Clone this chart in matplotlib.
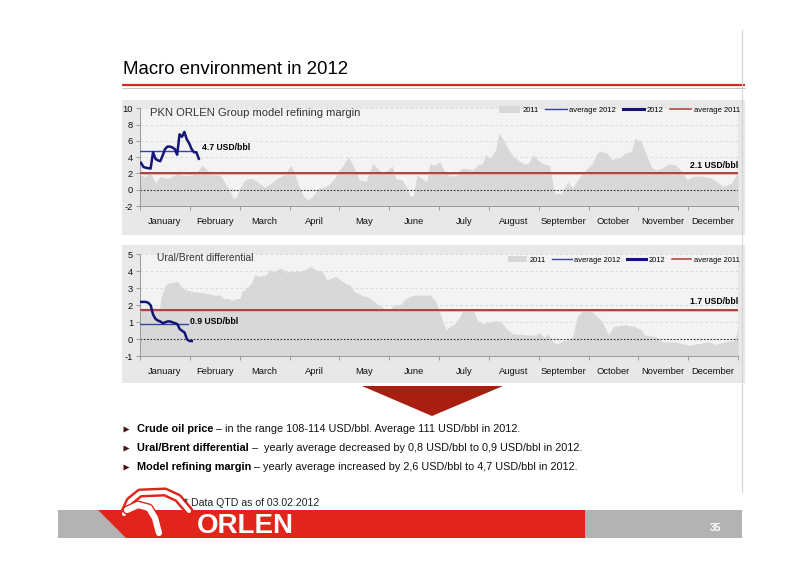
import numpy as np
import matplotlib
matplotlib.use('Agg')
import matplotlib.pyplot as plt
from matplotlib import font_manager as fm
from matplotlib.patches import Rectangle, Polygon, Patch
from matplotlib.lines import Line2D
import matplotlib.patheffects as pe

# ---------------- DATA ----------------
months = ['January', 'February', 'March', 'April', 'May', 'June', 'July',
          'August', 'September', 'October', 'November', 'December']

# Model refining margin 2011 (day of year, USD/bbl)
margin_2011_day = [0, 3, 6, 9, 10, 12, 17, 23, 27, 31, 34, 38, 42, 46, 49, 52, 55, 57, 59, 61,
                   64, 67, 70, 73, 76, 80, 84, 89, 92, 94, 97, 100, 103, 106, 109, 112, 115, 118, 121, 124,
                   127, 130, 134, 138, 142, 145, 148, 151, 154, 156, 160, 163, 165, 167, 169, 172, 175, 177, 180, 183,
                   186, 189, 193, 196, 200, 203, 206, 209, 211, 214, 217, 219, 222, 225, 228, 231, 234, 237, 240, 243,
                   246, 250, 253, 257, 261, 264, 267, 272, 276, 279, 281, 285, 288, 294, 296, 300, 302, 306, 312, 315,
                   318, 323, 327, 331, 334, 337, 343, 349, 356, 361, 365]
margin_2011_val = [1.8, 1.6, 2.2, 1.0, 0.9, 1.6, 1.4, 2.0, 1.7, 1.8, 2.0, 3.0, 2.2, 1.8, 1.8, 0.8, -0.2, -1.1, -0.85, 0.2,
                   1.2, 1.4, 1.2, 0.8, 0.3, 0.8, 1.4, 2.0, 3.0, 2.2, 0.4, -0.85, -1.25, -0.65, 0.2, 0.3, 0.6, 1.2, 2.2, 3.0,
                   4.05, 3.0, 1.2, 1.0, 3.2, 2.6, 2.0, 2.4, 2.9, 1.4, 1.2, 0.2, -0.85, -0.65, 1.8, 1.4, 1.0, 3.2, 3.0, 3.4,
                   2.2, 1.7, 1.7, 2.6, 2.6, 2.4, 3.0, 3.2, 4.3, 3.85, 4.9, 6.9, 6.1, 4.9, 4.05, 3.6, 3.2, 3.2, 4.3, 3.6,
                   3.2, 3.0, -0.4, -0.5, 1.0, 0.2, 1.2, 2.4, 3.2, 4.5, 4.7, 4.5, 3.7, 4.05, 4.5, 4.7, 6.3, 5.9, 2.8, 2.4,
                   2.6, 3.2, 3.0, 2.2, 1.2, 1.6, 1.7, 1.4, 0.4, 0.8, 2.2]
# Model refining margin 2012 (daily, 02.01-03.02)
margin_2012_val = [3.3, 2.8, 2.7, 2.65, 2.6, 4.6, 3.8, 3.6, 3.5, 4.2, 5.0, 5.3, 5.3, 5.2, 5.0, 4.3,
                   6.8, 6.5, 7.1, 6.2, 5.7, 5.0, 4.6, 4.6, 3.8]
margin_avg_2011 = 2.1
margin_avg_2012 = 4.7

# Ural/Brent differential 2011
ural_2011_day = [0, 12, 13, 15, 17, 20, 23, 25, 28, 33, 37, 41, 45, 49, 51, 54, 56, 59, 61, 62,
                 65, 68, 70, 73, 77, 79, 82, 86, 89, 93, 97, 101, 104, 107, 111, 114, 117, 119, 121, 125,
                 128, 131, 135, 140, 143, 146, 149, 152, 155, 159, 162, 167, 172, 177, 180, 183, 185, 187, 189, 192,
                 195, 197, 201, 204, 206, 209, 212, 215, 218, 221, 224, 227, 230, 233, 237, 241, 244, 247, 249, 251,
                 254, 258, 262, 264, 267, 272, 277, 282, 286, 289, 296, 302, 306, 308, 315, 319, 327, 335, 341, 347,
                 351, 357, 363, 365]
ural_2011_val = [1.85, 1.85, 2.5, 3.1, 3.3, 3.35, 3.4, 3.1, 2.9, 2.8, 2.75, 2.7, 2.6, 2.6, 2.4, 2.4, 2.3, 2.4, 2.4, 2.8,
                 3.0, 3.3, 3.8, 3.7, 3.8, 4.1, 4.0, 4.2, 3.95, 4.0, 4.0, 4.1, 4.3, 4.1, 4.0, 3.5, 3.6, 3.7, 3.6, 3.3,
                 3.2, 2.8, 2.6, 2.45, 2.2, 2.0, 1.8, 1.75, 2.0, 2.05, 2.4, 2.6, 2.6, 2.6, 2.3, 1.6, 1.0, 0.55, 0.75, 0.9,
                 1.3, 1.7, 1.75, 1.6, 1.1, 0.9, 1.0, 1.05, 1.1, 0.95, 0.6, 0.35, 0.3, 0.3, 0.25, 0.25, 0.4, 0.1, 0.35, 0.0,
                 -0.3, -0.1, 0.0, 0.15, 1.35, 1.85, 1.55, 1.05, 0.25, 0.75, 0.85, 0.75, 0.55, 0.25, 0.15, -0.15, -0.15, -0.35, -0.25, -0.15,
                 -0.3, -0.15, -0.05, 0.65]
ural_2012_val = [2.2, 2.2, 2.2, 2.15, 2.0, 1.45, 1.2, 1.1, 1.05, 0.95, 1.0, 1.05, 1.05, 1.0, 0.95, 0.9,
                 0.6, 0.5, 0.4, 0.0, -0.1, -0.1]
ural_avg_2011 = 1.7
ural_avg_2012 = 0.9

legend_labels = ['2011', 'average 2012', '2012', 'average 2011']

bullets = [("Crude oil price", " \u2013 in the range 108-114 USD/bbl. Average 111 USD/bbl in 2012."),
           ("Ural/Brent differential", " \u2013  yearly average decreased by 0,8 USD/bbl to 0,9 USD/bbl in 2012."),
           ("Model refining margin", " \u2013 yearly average increased by 2,6 USD/bbl to 4,7 USD/bbl in 2012.")]

# ---------------- FONTS ----------------
def has_font(name):
    try:
        fm.findfont(fm.FontProperties(family=name), fallback_to_default=False)
        return True
    except Exception:
        return False

NARROW_OK = has_font('Liberation Sans Narrow')
NARROW = ['Liberation Sans Narrow', 'Liberation Sans', 'DejaVu Sans'] if NARROW_OK else ['Liberation Sans', 'DejaVu Sans']
NF = 1.0 if NARROW_OK else 0.84
plt.rcParams['font.family'] = NARROW

DPM = 365.0 / 12.0
FILL = '#d8d8d8'
RED_AVG = '#a32424'
BLUE_AVG = '#3444a2'
NAVY = '#14147a'

W, H = 800, 565
fig = plt.figure(figsize=(8, 5.65), dpi=100)
bg = fig.add_axes([0, 0, 1, 1])
bg.set_xlim(0, W)
bg.set_ylim(H, 0)
bg.axis('off')

# Title and rules
bg.text(123, 74, 'Macro environment in 2012', fontsize=16 * NF, va='baseline', ha='left', color='black')
bg.plot([122, 745], [84.5, 84.5], color='#d52b1e', lw=1.6, solid_capstyle='butt')
bg.plot([122, 745], [87.6, 87.6], color='#c4c4c4', lw=0.7, solid_capstyle='butt')
bg.plot([742, 742], [30, 492], color='#d4d4d4', lw=0.8)

# panel backgrounds
bg.add_patch(Rectangle((122, 100), 623, 135, facecolor='#e8e8e8', edgecolor='none', zorder=0))
bg.add_patch(Rectangle((122, 245), 623, 138, facecolor='#e8e8e8', edgecolor='none', zorder=0))


def px_axes(x0, y0, x1, y1):
    return fig.add_axes([x0 / W, 1 - y1 / H, (x1 - x0) / W, (y1 - y0) / H])


def draw_panel(ax, d11, v11, v12, x12_end, avg11, avg12, avg12_end, ylim, yticks,
               title, title_pos, lbl12_off, lbl11_off, legend_anchor, legend_fs, legend_hl):
    ax.set_facecolor('#f3f3f3')
    ax.set_xlim(0, 12)
    ax.set_ylim(*ylim)
    x11 = np.asarray(d11, dtype=float) / DPM
    ax.fill_between(x11, v11, ylim[0], color=FILL, lw=0, zorder=1)
    ax.axhline(0, color='#333333', lw=0.8, ls=(0, (1.5, 1.5)), zorder=2)
    ax.axhline(avg11, color='#ddb0b0', lw=2.0, zorder=3)
    ax.axhline(avg11, color=RED_AVG, lw=1.1, zorder=3.1)
    ax.plot([0, avg12_end], [avg12, avg12], color=BLUE_AVG, lw=1.0, zorder=4)
    x12 = np.linspace(0.02, x12_end, len(v12))
    ax.plot(x12, v12, color=NAVY, lw=1.8, zorder=5, solid_joinstyle='round')

    ax.annotate('%.1f USD/bbl' % avg12, xy=(avg12_end, avg12), xytext=lbl12_off,
                textcoords='offset pixels', ha='left', va='center', fontsize=7.4 * NF,
                fontweight='bold', zorder=6)
    ax.annotate('%.1f USD/bbl' % avg11, xy=(12, avg11), xytext=lbl11_off,
                textcoords='offset pixels', ha='right', va='center', fontsize=7.4 * NF,
                fontweight='bold', zorder=6)
    ax.text(title_pos[0], title_pos[1], title, transform=ax.transAxes, ha='left', va='center',
            fontsize=title_pos[2] * NF, color='#333333', zorder=6)

    # axes styling
    ax.set_yticks(yticks)
    ax.set_yticklabels([str(t) for t in yticks])
    ax.set_xticks(np.arange(13))
    ax.set_xticklabels([])
    ax.set_xticks(np.arange(12) + 0.5, minor=True)
    ax.set_xticklabels(months, minor=True)
    ax.tick_params(axis='x', which='major', length=3, direction='out', color='#8c8c8c', width=0.6)
    ax.tick_params(axis='x', which='minor', length=0, pad=8, labelsize=8 * NF, labelcolor='#111111')
    ax.tick_params(axis='y', length=3, direction='out', color='#8c8c8c', width=0.6, pad=2,
                   labelsize=8 * NF, labelcolor='#111111')
    for s in ('top', 'right'):
        ax.spines[s].set_visible(False)
    for s in ('left', 'bottom'):
        ax.spines[s].set_color('#9a9a9a')
        ax.spines[s].set_linewidth(0.7)
    ax.set_axisbelow(True)
    ax.yaxis.grid(True, color='#d6d6d6', lw=0.6, ls=(0, (3, 3)))

    handles = [Patch(facecolor=FILL, edgecolor='none'),
               Line2D([], [], color=BLUE_AVG, lw=1.0),
               Line2D([], [], color=NAVY, lw=2.2),
               Line2D([], [], color='#b03a3a', lw=1.1)]
    ax.legend(handles, legend_labels, loc='upper right', bbox_to_anchor=legend_anchor, ncol=4,
              frameon=False, fontsize=legend_fs * NF, handlelength=legend_hl, handletextpad=0.35,
              columnspacing=0.85, borderaxespad=0, borderpad=0, handleheight=0.9)


ax1 = px_axes(140, 108.3, 738, 206)
draw_panel(ax1, margin_2011_day, margin_2011_val, margin_2012_val, 1.18,
           margin_avg_2011, margin_avg_2012, 1.02, (-2, 10), [-2, 0, 2, 4, 6, 8, 10],
           'PKN ORLEN Group model refining margin', (0.017, 0.952, 9.7),
           (11, 3.5), (0, 7), (1.003, 1.02), 6.6, 2.75)

ax2 = px_axes(140, 254.3, 738, 356.3)
draw_panel(ax2, ural_2011_day, ural_2011_val, ural_2012_val, 1.04,
           ural_avg_2011, ural_avg_2012, 0.96, (-1, 5), [-1, 0, 1, 2, 3, 4, 5],
           'Ural/Brent differential', (0.028, 0.964, 8.8),
           (2, 3), (0, 8.5), (1.003, 0.985), 6.4, 2.6)

# down arrow
bg.add_patch(Polygon([(362, 386), (503, 386), (432, 416)], closed=True,
                     facecolor='#a81f12', edgecolor='none', zorder=2))

# bullets
fig.canvas.draw()
renderer = fig.canvas.get_renderer()
inv = bg.transData.inverted()
for i, (b, rest) in enumerate(bullets):
    y = 432 + i * 19.2
    bg.plot(126, y - 3.5, marker='>', ms=4.2, color='#4a1010', mec='none')
    t = bg.text(137, y, b, fontsize=9.3 * NF, fontweight='bold', va='baseline', ha='left')
    bb = t.get_window_extent(renderer)
    xr = inv.transform((bb.x1, bb.y0))[0]
    bg.text(xr, y, rest, fontsize=9.3 * NF, va='baseline', ha='left', color='#111111')

# footer
bg.add_patch(Rectangle((58, 510), 684, 28, facecolor='#b3b3b3', edgecolor='none', zorder=1))
bg.add_patch(Polygon([(98, 510), (585, 510), (585, 538), (126, 538)], closed=True,
                     facecolor='#e1251b', edgecolor='none', zorder=2))
bg.text(197, 526, 'ORLEN', color='white', fontsize=20, fontweight='bold', va='center', ha='left',
        family=['Liberation Sans', 'DejaVu Sans'], zorder=5)
bg.text(716, 528, '35', color='white', fontsize=7.5, fontweight='bold', va='center', ha='center', zorder=5)
bg.text(184, 503, '* Data QTD as of 03.02.2012', fontsize=9 * NF, va='center', ha='left',
        color='#222222', zorder=5)

# logo approximation
arch = [(124, 514), (130, 501), (140, 493), (165, 492), (178, 498), (189, 511)]
xs, ys = zip(*arch)
bg.plot(xs, ys, color='#e1251b', lw=6.5, solid_capstyle='round', solid_joinstyle='round', zorder=3)
bg.plot(xs, ys, color='white', lw=3.0, solid_capstyle='round', solid_joinstyle='round', zorder=3.1)
sweep = [(127, 510), (138, 505), (149, 508), (155, 518), (159, 533)]
xs, ys = zip(*sweep)
bg.plot(xs, ys, color='white', lw=4.5, solid_capstyle='round', solid_joinstyle='round', zorder=3.2,
        path_effects=[pe.Stroke(linewidth=6.5, foreground='#e1251b'), pe.Normal()])

fig.savefig('out.png', dpi=100, facecolor='white')
